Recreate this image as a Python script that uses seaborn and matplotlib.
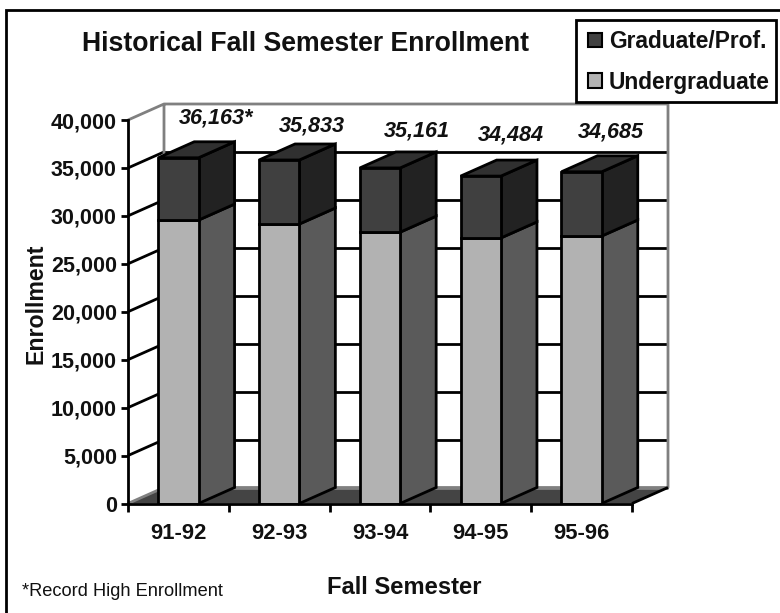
import numpy as np
import matplotlib
matplotlib.use("Agg")
import matplotlib.pyplot as plt
from matplotlib.patches import Patch, Polygon, Rectangle
import seaborn as sns

semesters = ["91-92", "92-93", "93-94", "94-95", "95-96"]
undergraduate = [29560, 29150, 28300, 27700, 27900]
graduate = [6500, 6680, 6700, 6450, 6700]
total_labels = ["36,163*", "35,833", "35,161", "34,484", "34,685"]
y_ticks = [0, 5000, 10000, 15000, 20000, 25000, 30000, 35000, 40000]

# hand placed labels, pixels from the top of each bar
label_nudge = [(38, 40), (33, 34), (37, 37), (30, 41), (29, 40)]

FONT = "Liberation Sans"
W, H = 780, 613
LEFT, RIGHT, TOP, BOTTOM = 128, 632, 120, 503.5
DEPTH_X, DEPTH_Y = 36, 16
BAR_WIDTH = 0.4

sns.set_theme(style="white", rc={"font.family": FONT})
fig = plt.figure(figsize=(W / 100, H / 100), dpi=100, facecolor="white")
ax = fig.add_axes([LEFT / W, 1 - BOTTOM / H, (RIGHT - LEFT) / W, (BOTTOM - TOP) / H])
ax.set_facecolor("none")
ax.set_xlim(-0.5, 4.5)
ax.set_ylim(0, 40000)

# depth of the fake 3d box in data units
dx = DEPTH_X / (RIGHT - LEFT) * 5
dy = DEPTH_Y / (BOTTOM - TOP) * 40000


def face(points, color, z, edge="black", lw=2):
    ax.add_patch(Polygon(points, closed=True, facecolor=color, edgecolor=edge, lw=lw,
                         zorder=z, clip_on=False, joinstyle="miter"))


def wall_line(xs, ys, color="black", z=1, lw=2):
    ax.plot(xs, ys, color=color, lw=lw, zorder=z, clip_on=False, solid_capstyle="butt")


# floor
x0, x1 = ax.get_xlim()
face([(x0, 0), (x1, 0), (x1 + dx, dy), (x0 + dx, dy)], "#444444", 1, edge="none", lw=0)
wall_line([x0 + dx, x1 + dx], [dy, dy], "#808080", 1.2)
wall_line([x0, x0 + dx], [0, dy], "#808080", 1.2)
wall_line([x1, x1 + dx], [0, dy], "black", 1.3)

# walls and grid
for t in y_ticks[1:-1]:
    wall_line([x0, x0 + dx], [t, t + dy])
    wall_line([x0 + dx, x1 + dx], [t + dy, t + dy])
top = y_ticks[-1]
wall_line([x0, x0 + dx, x1 + dx, x1 + dx, x0 + dx, x0 + dx], [top, top + dy, top + dy, dy, dy, top + dy],
          "#808080", 1.1)

# front faces
sns.barplot(x=semesters, y=undergraduate, width=BAR_WIDTH, color="#B2B2B2", saturation=1,
            edgecolor="black", linewidth=2, ax=ax, zorder=5, bottom=0)
sns.barplot(x=semesters, y=graduate, width=BAR_WIDTH, color="#404040", saturation=1,
            edgecolor="black", linewidth=2, ax=ax, zorder=5, bottom=undergraduate)

# side and top faces
for i, (ug, gr) in enumerate(zip(undergraduate, graduate)):
    xr = i + BAR_WIDTH / 2
    xl = i - BAR_WIDTH / 2
    tot = ug + gr
    face([(xr, 0), (xr + dx, dy), (xr + dx, ug + dy), (xr, ug)], "#5A5A5A", 3)
    face([(xr, ug), (xr + dx, ug + dy), (xr + dx, tot + dy), (xr, tot)], "#222222", 3)
    face([(xl, tot), (xr, tot), (xr + dx, tot + dy), (xl + dx, tot + dy)], "#303030", 3)
    ax.annotate(total_labels[i], (i, tot), xytext=label_nudge[i], textcoords="offset pixels",
                ha="center", va="center", fontsize=15.6, fontweight="bold", fontstyle="italic",
                family=FONT, color="#111111", zorder=8, annotation_clip=False)

# axes and ticks
sns.despine(ax=ax, top=True, right=True)
for side in ["left", "bottom"]:
    ax.spines[side].set_color("black")
    ax.spines[side].set_linewidth(2)
    ax.spines[side].set_zorder(6)
ax.set_yticks(y_ticks, [f"{t:,}" for t in y_ticks])
ax.set_xticks(np.arange(-0.5, 5), minor=True)
ax.tick_params(axis="y", which="major", left=True, length=5, width=2, color="black", pad=3,
               labelsize=15.5, labelcolor="#111111")
ax.tick_params(axis="x", which="major", bottom=False, pad=8, labelsize=15.8, labelcolor="#111111")
ax.tick_params(axis="x", which="minor", bottom=True, length=6, width=2, color="black")
for lab in ax.get_xticklabels() + ax.get_yticklabels():
    lab.set_fontweight("bold")
ax.set_xlabel("")
ax.set_ylabel("")


def px_text(x, y, s, **kw):
    fig.text(x / W, 1 - y / H, s, family=FONT, color="#111111", **kw)


px_text(306, 44, "Historical Fall Semester Enrollment", fontsize=19.2, fontweight="bold", ha="center", va="center")
px_text(36, 303.5, "Enrollment", fontsize=16.7, fontweight="bold", ha="center", va="center", rotation=90)
px_text(404, 587, "Fall Semester", fontsize=17.1, fontweight="bold", ha="center", va="center")
px_text(22, 592, "*Record High Enrollment", fontsize=13.15, ha="left", va="center")

# outer frame, only its top and left edges fall inside the picture
fig.add_artist(Rectangle((6 / W, -20 / H), 800 / W, (H + 20 - 10) / H, transform=fig.transFigure, fill=False,
                         edgecolor="black", lw=2))

# legend
fig.add_artist(Rectangle((576 / W, 1 - 101.5 / H), 200 / W, 81.5 / H, transform=fig.transFigure,
                         facecolor="white", edgecolor="black", lw=2))
handles = [Patch(facecolor="#404040", edgecolor="black", lw=1.5, label="Graduate/Prof."),
           Patch(facecolor="#B2B2B2", edgecolor="black", lw=1.5, label="Undergraduate")]
leg = fig.legend(handles=handles, loc="upper left", bbox_to_anchor=(588 / W, 1 - 30 / H),
                 bbox_transform=fig.transFigure, frameon=False,
                 borderaxespad=0, borderpad=0, labelspacing=0.77, handlelength=0.62, handleheight=0.62,
                 handletextpad=0.3, prop={"family": FONT, "weight": "bold", "size": 16.4})
for t in leg.get_texts():
    t.set_color("#111111")

fig.savefig("out.png", dpi=100)
